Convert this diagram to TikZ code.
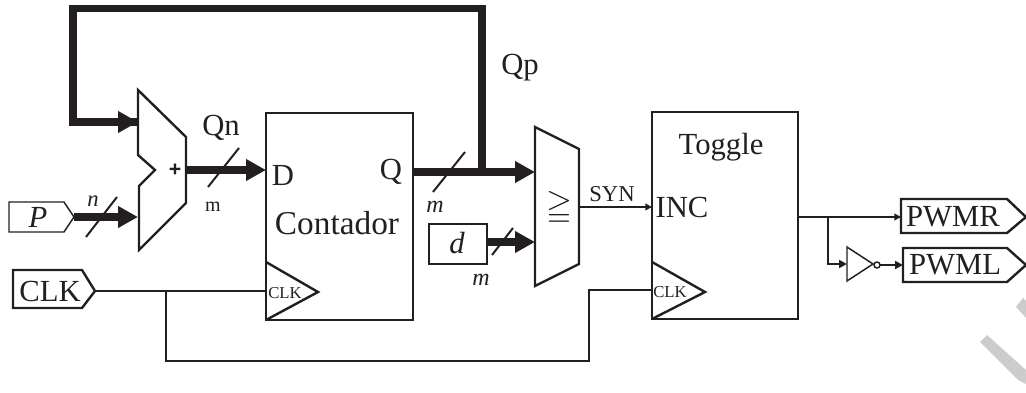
\documentclass[tikz,border=0pt]{standalone}
\usepackage{amssymb}
\usepackage{fontspec}
\setmainfont{Liberation Serif}
\newfontfamily\plusfont{Liberation Sans}
\usetikzlibrary{arrows.meta}
\definecolor{ink}{HTML}{231F20}
\tikzset{
  x=0.75pt,y=-0.75pt,
  every node/.style={inner sep=0pt,outer sep=0pt,text=ink},
  outline/.style={draw=ink,line width=1.8pt,line join=miter},
  thin outline/.style={draw=ink,line width=1.1pt,line join=miter},
  bus/.style={draw=ink,line width=6pt,-{Triangle[length=15pt,width=15.5pt]}},
  busline/.style={draw=ink,line width=5.8pt,line join=miter},
  wire/.style={draw=ink,line width=1.7pt},
  sigarrow/.style={draw=ink,line width=1.5pt,-{Triangle[length=5pt,width=5pt]}},
  heavyarrow/.style={draw=ink,line width=2pt,-{Triangle[length=6pt,width=6pt]}},
  slash/.style={draw=ink,line width=1.5pt},
  big/.style={font=\fontsize{23}{23}\selectfont},
  label/.style={font=\fontsize{25}{25}\selectfont},
  tiny/.style={font=\fontsize{12.5}{12.5}\selectfont},
  syn/.style={font=\fontsize{17}{17}\selectfont},
  mit/.style={font=\fontsize{18}{18}\selectfont\itshape},
  msmall/.style={font=\fontsize{15}{15}\selectfont},
}
\begin{document}
\begin{tikzpicture}
\useasboundingbox (0,0) rectangle (1026,393);
% watermark
\fill[black!20] (1023,298) -- (1026,301) -- (1026,318) -- (1016,307) -- cycle;
\fill[black!20] (987,335) -- (1026,370) -- (1026,384) -- (1018,380) -- (980,342) -- cycle;

% ports
\coordinate (addA) at (138,122);
\coordinate (addB) at (138,217);
\coordinate (addOut) at (186,170);
\coordinate (cntD) at (266,170);
\coordinate (cntQ) at (413,172);
\coordinate (cntClk) at (266,291);
\coordinate (cmpA) at (535,172);
\coordinate (cmpB) at (535,242);
\coordinate (cmpOut) at (579,207);
\coordinate (togInc) at (652,207);
\coordinate (togClk) at (652,290);
\coordinate (togOut) at (798,217);
\coordinate (tapQ) at (482,172);
\coordinate (fbTop) at (482,8.5);
\coordinate (fbLeft) at (73,8.5);
\coordinate (fbDown) at (73,122);
\coordinate (clkTap) at (166,291);
\coordinate (clkLow) at (166,361);
\coordinate (clkLowR) at (589,361);
\coordinate (clkUp) at (589,290);
\coordinate (pwmTap) at (828,217);
\coordinate (pwmLow) at (828,264);
\coordinate (invIn) at (847,264);
\coordinate (invOut) at (880,265);
\coordinate (pIn) at (74,217);
\coordinate (clkIn) at (95,291);
\coordinate (dOut) at (487,242);
\coordinate (pwmrIn) at (901,217);
\coordinate (pwmlIn) at (903,265);

% shapes
\draw[outline] (138,90) -- (186,137) -- (186,203) -- (139,250) -- (139,186) -- (155,170) -- (138,155) -- cycle;
\draw[outline] (266,113) rectangle (413,320);
\draw[outline] (266,262) -- (318,292) -- (266,320);
\draw[outline] (535,127) -- (579,149) -- (579,264) -- (535,286) -- cycle;
\draw[outline] (652,112) rectangle (798,319);
\draw[outline] (652,262) -- (705,292) -- (652,319);
\draw[outline] (429,224) rectangle (487,264);
\draw[thin outline] (9,202) -- (64,202) -- (74,217) -- (64,232) -- (9,232) -- cycle;
\draw[outline] (13,270) -- (82,270) -- (95,291) -- (82,308) -- (13,308) -- cycle;
\draw[outline] (901,199) -- (1007,199) -- (1026,217) -- (1007,233) -- (901,233) -- cycle;
\draw[outline] (903,248) -- (1007,248) -- (1026,265) -- (1007,282) -- (903,282) -- cycle;
\draw[thin outline] (847,247) -- (873,264) -- (847,281) -- cycle;
\draw[thin outline] (877,265) circle (3);

% connectors
\draw[busline] (tapQ) -- (fbTop) -- (fbLeft) -- (fbDown) -- (addA);
\draw[bus] (fbDown) -- (addA);
\draw[bus] (pIn) -- (addB);
\draw[bus] (addOut) -- (cntD);
\draw[bus] (cntQ) -- (cmpA);
\draw[bus] (dOut) -- (cmpB);
\draw[wire] (clkIn) -- (cntClk);
\draw[wire] (clkTap) -- (clkLow) -- (clkLowR) -- (clkUp) -- (togClk);
\draw[sigarrow] (cmpOut) -- (togInc);
\draw[sigarrow] (togOut) -- (pwmrIn);
\draw[heavyarrow] (pwmTap) -- (pwmLow) -- (invIn);
\draw[heavyarrow] (invOut) -- (pwmlIn);

% bus slashes
\coordinate (s1a) at (86,237); \coordinate (s1b) at (117,197);
\coordinate (s2a) at (208,187); \coordinate (s2b) at (239,148);
\coordinate (s3a) at (433,192); \coordinate (s3b) at (465,152);
\coordinate (s4a) at (492,255); \coordinate (s4b) at (513,228);
\draw[slash] (s1a) -- (s1b);
\draw[slash] (s2a) -- (s2b);
\draw[slash] (s3a) -- (s3b);
\draw[slash] (s4a) -- (s4b);

% text
\node[font=\plusfont\bfseries\fontsize{16}{16}\selectfont] (plus) at (175,170.5) {+};
\node[big] (qp) at (520,68) {Qp};
\node[big] (qn) at (221,128) {Qn};
\node[big] (dl) at (283,175) {D};
\node[big] (ql) at (391,172) {Q};
\node[label] (cont) at (337,223) {Contador};
\node[big] (tog) at (721,147) {Toggle};
\node[big] (inc) at (682,207) {INC};
\node[tiny] (c1) at (285,293) {CLK};
\node[tiny] (c2) at (670,292) {CLK};
\node[syn] (synl) at (612,194) {SYN};
\node[big] (clkl) at (50,291) {CLK};
\node[big,font=\fontsize{23}{23}\selectfont\itshape] (pl) at (38,217) {P};
\node[big,font=\fontsize{23}{23}\selectfont\itshape] (dv) at (457,243) {d};
\node[font=\fontsize{17}{17}\selectfont\itshape] (nl) at (93,201) {n};
\node[msmall] (m1) at (213,207) {m};
\node[mit] (m2) at (435,207) {m};
\node[mit] (m3) at (481,280) {m};
\node[big] (pwmr) at (953,217) {PWMR};
\node[big] (pwml) at (955,265) {PWML};
\node[font=\fontsize{25}{25}\selectfont] (ge) at (559,208) {$\geqq$};
\end{tikzpicture}
\end{document}
